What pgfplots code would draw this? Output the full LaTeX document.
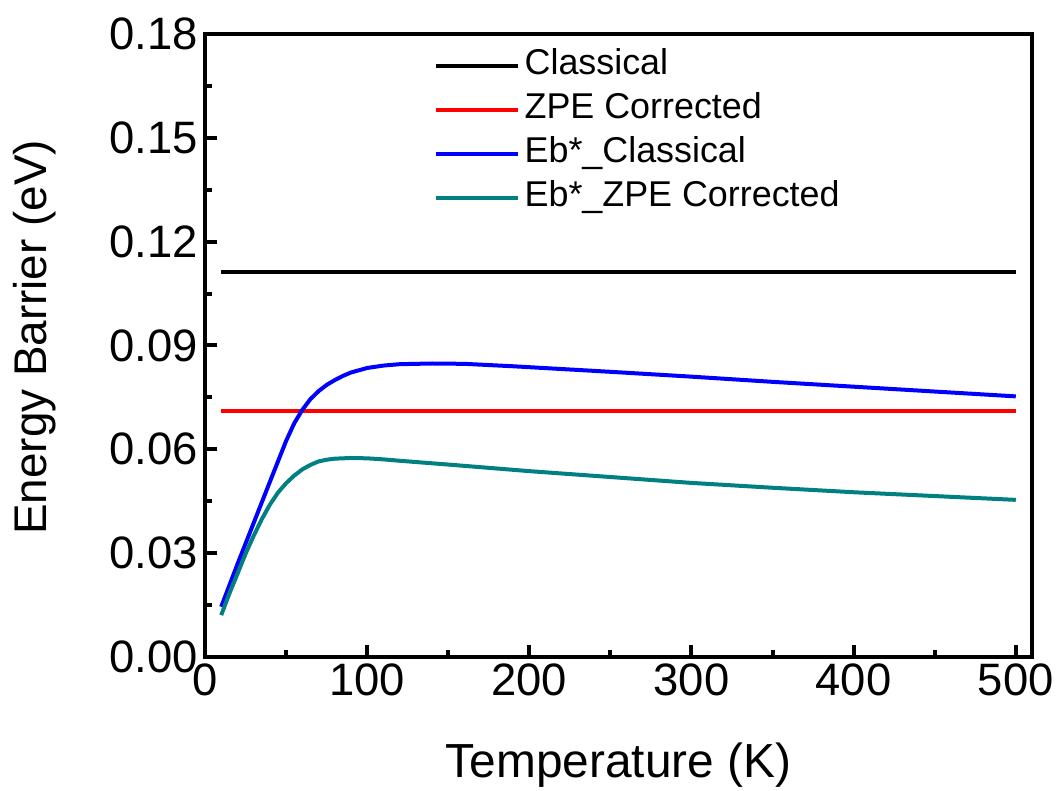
\documentclass[border=0pt]{standalone}
\usepackage{fontspec}
\setmainfont{Liberation Sans}
\usepackage{pgfplots}
\pgfplotsset{compat=1.18}
\definecolor{tealc}{RGB}{0,128,128}
\begin{document}
\begin{tikzpicture}
\begin{axis}[
  scale only axis, width=413.5bp, height=311.5bp,
  xmin=0, xmax=510, ymin=0, ymax=0.18,
  xtick={0,100,200,300,400,500},
  ytick={0,0.03,0.06,0.09,0.12,0.15,0.18},
  minor x tick num=1, minor y tick num=1,
  tick align=inside, tick pos=left,
  major tick length=6bp, minor tick length=3.3bp,
  every tick/.style={black, line width=2bp},
  axis line style={line width=2.25bp},
  tick label style={font=\fontsize{22.8}{26}\selectfont},
  /pgf/number format/assume math mode=true,
  yticklabel style={/pgf/number format/fixed, /pgf/number format/fixed zerofill, /pgf/number format/precision=2},
  scaled y ticks=false,
  xlabel={Temperature (K)}, ylabel={Energy Barrier (eV)},
  xlabel style={font=\fontsize{24}{28}\selectfont, at={(axis description cs:0.5,-0.173)}, anchor=center},
  ylabel style={font=\fontsize{23}{27}\selectfont, at={(axis description cs:-0.2056,0.513)}, anchor=center},
  legend style={at={(axis description cs:0.276,0.985)}, anchor=north west, draw=none, fill=none,
    font=\fontsize{18}{21}\selectfont, row sep=0pt, inner sep=0pt,
    nodes={text height=13bp, text depth=4bp, inner sep=2.5bp}},
  legend image code/.code={\draw[#1] (0bp,0bp) -- (41bp,0bp);},
  legend cell align=left,
]
\coordinate (O) at (rel axis cs:0,0);
\addplot[black, line width=2bp] coordinates {(10,0.1112) (500,0.1112)};
\addlegendentry{Classical}
\addplot[red, line width=2bp] coordinates {(10,0.0711) (500,0.0711)};
\addlegendentry{ZPE Corrected}
\addplot[blue, line width=2bp, line join=round] coordinates {
(10,0.0145) (20,0.0268) (30,0.0387) (40,0.0506) (50,0.0624) (55,0.0675)
(60,0.0714) (65,0.0745) (70,0.0768) (75,0.0786) (80,0.0800) (85,0.0812)
(90,0.0822) (100,0.0835) (110,0.0842) (120,0.0846) (140,0.0848) (160,0.0847)
(190,0.0840) (220,0.0832) (250,0.0824) (300,0.0810) (350,0.0795)
(400,0.0781) (450,0.0767) (500,0.0753)};
\addlegendentry{Eb*\_Classical}
\addplot[tealc, line width=2bp, line join=round] coordinates {
(10,0.0121) (15,0.0183) (20,0.0240) (25,0.0298) (30,0.0350) (35,0.0398)
(40,0.0440) (45,0.0475) (50,0.0502) (55,0.0524) (60,0.0542) (65,0.0555)
(70,0.0565) (75,0.0570) (80,0.0573) (90,0.0575) (100,0.0574) (110,0.0571)
(120,0.0567) (150,0.0556) (200,0.0537) (250,0.0520) (300,0.0503)
(350,0.0489) (400,0.0476) (450,0.0465) (500,0.0454)};
\addlegendentry{Eb*\_ZPE Corrected}
\end{axis}
\pgfresetboundingbox
\path (O) ++(-102.5bp,-67bp) rectangle ++(529bp,395.5bp);
\end{tikzpicture}
\end{document}
